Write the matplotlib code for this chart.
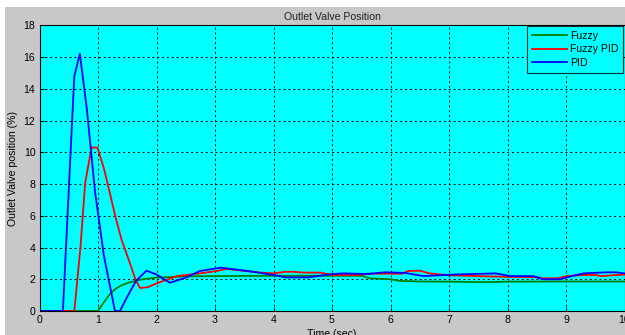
import matplotlib
matplotlib.use("Agg")
import matplotlib.pyplot as plt
from matplotlib.patches import Rectangle

# Data
t_fuzzy = [0, 1.0, 1.1, 1.2, 1.3, 1.4, 1.5, 1.66, 1.8, 2.0, 2.5, 3.0, 4.0, 5.0, 5.5, 5.65, 6.0, 6.15, 6.5, 7.0, 7.5, 7.7, 8.0, 9.0, 10.0]
y_fuzzy = [0, 0, 0.55, 1.05, 1.4, 1.62, 1.76, 1.92, 2.02, 2.1, 2.18, 2.2, 2.22, 2.22, 2.22, 2.06, 2.0, 1.9, 1.86, 1.85, 1.82, 1.82, 1.85, 1.86, 1.86]

t_fpid = [0, 0.595, 0.7, 0.78, 0.89, 0.99, 1.1, 1.205, 1.3, 1.405, 1.547, 1.65, 1.72, 1.85, 2.0, 2.2, 2.35, 2.74, 3.0, 3.2, 3.37, 3.77, 4.0, 4.2, 4.35, 4.5, 4.8, 5.0, 5.5, 5.6, 6.2, 6.3, 6.5, 6.67, 7.0, 7.5, 8.0, 8.5, 8.6, 8.85, 9.02, 9.3, 9.5, 9.6, 10.0]
y_fpid = [0, 0, 4.0, 8.05, 10.3, 10.3, 9.0, 7.4, 5.9, 4.47, 3.0, 1.9, 1.45, 1.5, 1.74, 2.0, 2.2, 2.37, 2.5, 2.65, 2.58, 2.42, 2.37, 2.47, 2.47, 2.42, 2.42, 2.27, 2.27, 2.35, 2.35, 2.52, 2.54, 2.37, 2.25, 2.2, 2.15, 2.13, 2.06, 2.06, 2.2, 2.27, 2.27, 2.2, 2.3]

t_pid = [0, 0.40, 0.595, 0.69, 0.81, 0.95, 1.1, 1.29, 1.376, 1.5, 1.65, 1.83, 2.0, 2.23, 2.5, 2.74, 3.1, 3.6, 4.0, 4.2, 4.6, 5.0, 5.2, 5.6, 5.9, 6.25, 6.56, 7.1, 7.8, 8.05, 8.45, 8.6, 8.9, 9.1, 9.3, 9.7, 9.85, 10.0]
y_pid = [0, 0, 14.8, 16.2, 12.7, 7.5, 3.5, 0, 0, 0.9, 1.9, 2.54, 2.3, 1.78, 2.1, 2.52, 2.73, 2.5, 2.27, 2.12, 2.12, 2.33, 2.37, 2.33, 2.44, 2.4, 2.2, 2.3, 2.37, 2.2, 2.2, 2.0, 2.0, 2.2, 2.37, 2.44, 2.44, 2.37]

x_ticks = [0, 1, 2, 3, 4, 5, 6, 7, 8, 9, 10]
y_ticks = [0, 2, 4, 6, 8, 10, 12, 14, 16, 18]
series_labels = ["Fuzzy", "Fuzzy PID", "PID"]

FS = 7.6
plt.rcParams['font.family'] = ['Liberation Sans', 'DejaVu Sans']
plt.rcParams['font.size'] = FS

fig = plt.figure(figsize=(6.25, 3.35), dpi=100, facecolor='white')
bg = Rectangle((5 / 625, 0), 1, 1 - 6.5 / 335, transform=fig.transFigure,
               facecolor='#c8c8c8', edgecolor='none', zorder=-10)
fig.add_artist(bg)

ax = fig.add_axes([39.5 / 625, 1 - 311 / 335, 585 / 625, (311 - 25.3) / 335])
ax.set_zorder(1)
ax.set_facecolor('#00ffff')

ax.plot(t_fuzzy, y_fuzzy, color='#008000', lw=1.3, label=series_labels[0])
ax.plot(t_fpid, y_fpid, color='#ff0000', lw=1.3, label=series_labels[1])
ax.plot(t_pid, y_pid, color='#0000ff', lw=1.3, label=series_labels[2])

ax.set_xlim(0, 10)
ax.set_ylim(0, 18)
ax.set_xticks(x_ticks)
ax.set_yticks(y_ticks)
ax.tick_params(direction='in', length=3, width=0.6, pad=3, labelsize=FS, colors='black')
ax.grid(True, color='black', linestyle=(0, (2, 3)), linewidth=0.7)
for s in ax.spines.values():
    s.set_linewidth(0.8)
    s.set_color('black')

ax.set_title("Outlet Valve Position", fontsize=FS, pad=4, color='#202020')
ax.set_ylabel("Outlet Valve position (%)", fontsize=FS, labelpad=4)
ax.set_xlabel("Time (sec)", fontsize=FS, labelpad=3)

leg = ax.legend(loc='upper right', fontsize=FS, frameon=True, fancybox=False,
                facecolor='#00ffff', edgecolor='#103030', framealpha=1,
                borderaxespad=0.1, handlelength=3.3, handletextpad=0.3,
                labelspacing=0.32, borderpad=0.45)
leg.get_frame().set_linewidth(0.8)

fig.savefig("out.png", dpi=100, facecolor=fig.get_facecolor())
